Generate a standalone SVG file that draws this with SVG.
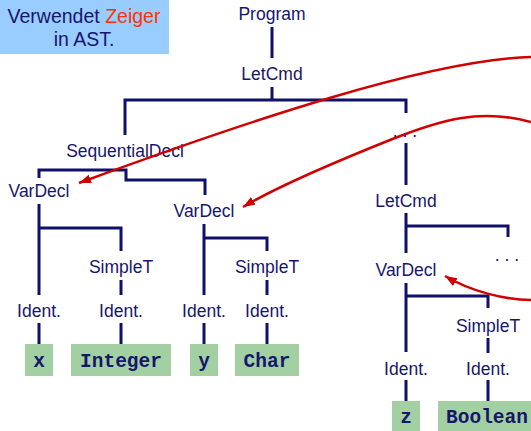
<svg xmlns="http://www.w3.org/2000/svg" width="531" height="431" viewBox="0 0 531 431">
<defs>
<style>
.t{font-family:"Liberation Sans",Arial,sans-serif;font-size:17.5px;fill:#16166b;text-anchor:middle}
.m{font-family:"Liberation Mono","Courier New",monospace;font-size:19.5px;font-weight:bold;fill:#16166b;text-anchor:middle}
.b{fill:#a2d0a2}
.e{fill:none;stroke:#10106a;stroke-width:3}
.r{fill:none;stroke:#d00000;stroke-width:2.5}
</style>
<marker id="ah" markerUnits="userSpaceOnUse" markerWidth="14" markerHeight="10" refX="12" refY="4.5" orient="auto">
<path d="M0,0 L12,4.5 L0,9 z" fill="#d00000"/>
</marker>
</defs>
<rect width="531" height="431" fill="#ffffff"/>
<g id="note">
<rect x="0" y="0" width="169" height="54" fill="#99ccff"/>
<text x="84" y="23" style="font-family:'Liberation Sans',Arial,sans-serif;font-size:19.5px;fill:#16166b;text-anchor:middle">Verwendet <tspan fill="#ff3300">Zeiger</tspan></text>
<text x="84" y="46" style="font-family:'Liberation Sans',Arial,sans-serif;font-size:19.5px;fill:#16166b;text-anchor:middle">in AST.</text>
</g>
<g id="edges">
<path class="e" d="M272,27V58"/>
<path class="e" d="M272,87V100M125,135V100H406V113"/>
<path class="e" d="M406,143V185"/>
<path class="e" d="M39,178V170H126V180H205V195"/>
<path class="e" d="M39,204V295M39,228H121V251M121,280V295"/>
<path class="e" d="M204,224V295M204,238H267V251M267,280V295"/>
<path class="e" d="M39,323V345M121,323V345M204,323V345M267,323V345"/>
<path class="e" d="M406,213V253M406,226H508V237"/>
<path class="e" d="M406,283V352M406,296H488V308M488,338V353"/>
<path class="e" d="M406,380V402M488,380V402"/>
</g>
<g id="n-program"><text class="t" x="272" y="20">Program</text></g>
<g id="n-letcmd1"><text class="t" x="272" y="80">LetCmd</text></g>
<g id="n-seqdecl"><text class="t" x="125" y="157">SequentialDecl</text></g>
<g id="n-dots1"><text class="t" x="405" y="137">. . .</text></g>
<g id="n-vardecl-x"><text class="t" x="39" y="197">VarDecl</text></g>
<g id="n-vardecl-y"><text class="t" x="204" y="217">VarDecl</text></g>
<g id="n-simplet-int"><text class="t" x="121" y="273">SimpleT</text></g>
<g id="n-simplet-char"><text class="t" x="267" y="273">SimpleT</text></g>
<g id="n-ident-x"><text class="t" x="39" y="317">Ident.</text></g>
<g id="n-ident-int"><text class="t" x="121" y="317">Ident.</text></g>
<g id="n-ident-y"><text class="t" x="204" y="317">Ident.</text></g>
<g id="n-ident-char"><text class="t" x="267" y="317">Ident.</text></g>
<g id="n-x"><rect class="b" x="25" y="344" width="28" height="32"/><text class="m" x="39" y="367">x</text></g>
<g id="n-integer"><rect class="b" x="71" y="344" width="100" height="32"/><text class="m" x="121" y="367">Integer</text></g>
<g id="n-y"><rect class="b" x="190" y="344" width="28" height="32"/><text class="m" x="204" y="367">y</text></g>
<g id="n-char"><rect class="b" x="235" y="344" width="64" height="32"/><text class="m" x="267" y="367">Char</text></g>
<g id="n-letcmd2"><text class="t" x="406" y="207">LetCmd</text></g>
<g id="n-dots2"><text class="t" x="507" y="261">. . .</text></g>
<g id="n-vardecl-z"><text class="t" x="406" y="276">VarDecl</text></g>
<g id="n-simplet-bool"><text class="t" x="488" y="332">SimpleT</text></g>
<g id="n-ident-z"><text class="t" x="406" y="375">Ident.</text></g>
<g id="n-ident-bool"><text class="t" x="488" y="375">Ident.</text></g>
<g id="n-z"><rect class="b" x="392" y="401" width="28" height="32"/><text class="m" x="406" y="423">z</text></g>
<g id="n-boolean"><rect class="b" x="438" y="401" width="95" height="32"/><text class="m" x="487" y="423">Boolean</text></g>
<g id="pointers">
<path class="r" d="M531,57 C430,60 250,120 79,183" marker-end="url(#ah)"/>
<path class="r" d="M531,122 C480,108 440,120 390,140 S280,185 243,207" marker-end="url(#ah)"/>
<path class="r" d="M531,300 C505,300 470,291 445,276" marker-end="url(#ah)"/>
</g>
</svg>
